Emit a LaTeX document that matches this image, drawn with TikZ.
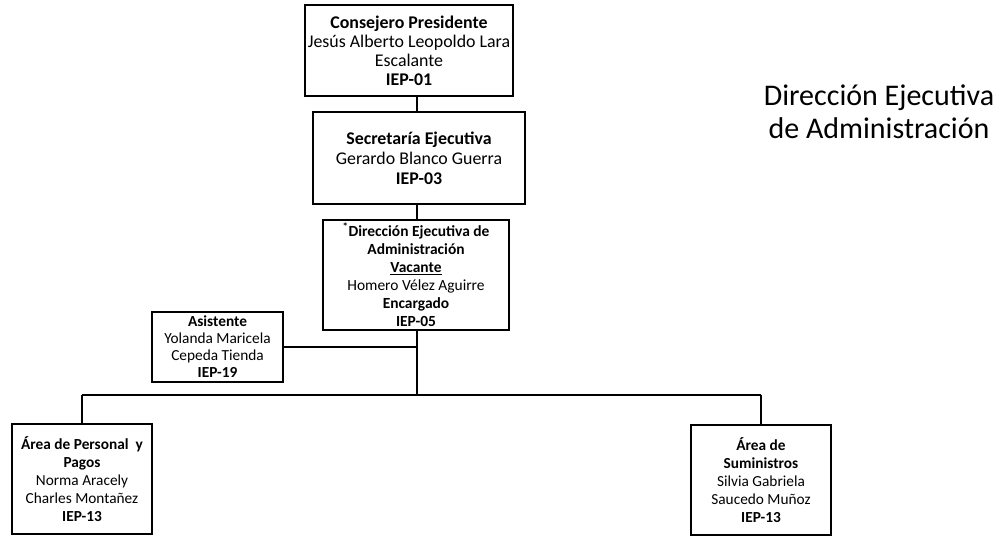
\documentclass[tikz,border=0pt]{standalone}
\usepackage{fontspec}
\setmainfont{Carlito}
\usepackage{tikz}

\begin{document}
\begin{tikzpicture}[x=0.75pt, y=-0.75pt,
	puesto/.style={draw, line width=1pt, align=center, inner sep=0pt},
	linea/.style={line width=0.8pt}]
	\useasboundingbox (0,0) rectangle (998,535);

	\node[puesto, minimum width=156pt, minimum height=68.25pt, font=\fontsize{13.4}{14.2}\selectfont] (consejero) at (409,50.5)
		{\textbf{Consejero Presidente}\\Jesús Alberto Leopoldo Lara\\Escalante\\\textbf{IEP-01}};
	\node[puesto, minimum width=159pt, minimum height=69pt, font=\fontsize{13.4}{15}\selectfont] (secretaria) at (419,158)
		{\textbf{Secretaría Ejecutiva}\\Gerardo Blanco Guerra\\\textbf{IEP-03}};
	\node[puesto, minimum width=139.5pt, minimum height=82.5pt, font=\fontsize{11.6}{13.5}\selectfont] (direccion) at (416,275)
		{\textbf{\textsuperscript{*}Dirección Ejecutiva de}\\\textbf{Administración}\\\textbf{\underline{Vacante}}\\Homero Vélez Aguirre\\\textbf{Encargado}\\\textbf{IEP-05}};
	\node[puesto, minimum width=98.25pt, minimum height=52.5pt, font=\fontsize{11.5}{12.8}\selectfont] (asistente) at (217.5,347)
		{\textbf{Asistente}\\Yolanda Maricela\\Cepeda Tienda\\\textbf{IEP-19}};
	\node[puesto, minimum width=105pt, minimum height=82.5pt, font=\fontsize{11.5}{13.5}\selectfont] (personal) at (82,479)
		{\textbf{Área de Personal\ \ y}\\\textbf{Pagos}\\Norma Aracely\\Charles Montañez\\\textbf{IEP-13}};
	\node[puesto, minimum width=105pt, minimum height=82.5pt, font=\fontsize{11.5}{13.5}\selectfont] (suministros) at (761,480)
		{\textbf{Área de}\\\textbf{Suministros}\\Silvia Gabriela\\Saucedo Muñoz\\\textbf{IEP-13}};

	\node[align=center, font=\fontsize{22.5}{24.75}\selectfont] (titulo) at (879,112)
		{Dirección Ejecutiva\\de Administración};

	\coordinate (tronco) at (417,395);
	\draw[linea] (consejero.south -| tronco) -- (secretaria.north -| tronco);
	\draw[linea] (secretaria.south -| tronco) -- (direccion.north -| tronco);
	\draw[linea] (direccion.south -| tronco) -- (tronco);
	\draw[linea] (asistente.east) -- (asistente.east -| tronco);
	\draw[linea] (personal.north |- tronco) -- (suministros.north |- tronco);
	\draw[linea] (personal.north |- tronco) -- (personal.north);
	\draw[linea] (suministros.north |- tronco) -- (suministros.north);
\end{tikzpicture}
\end{document}
